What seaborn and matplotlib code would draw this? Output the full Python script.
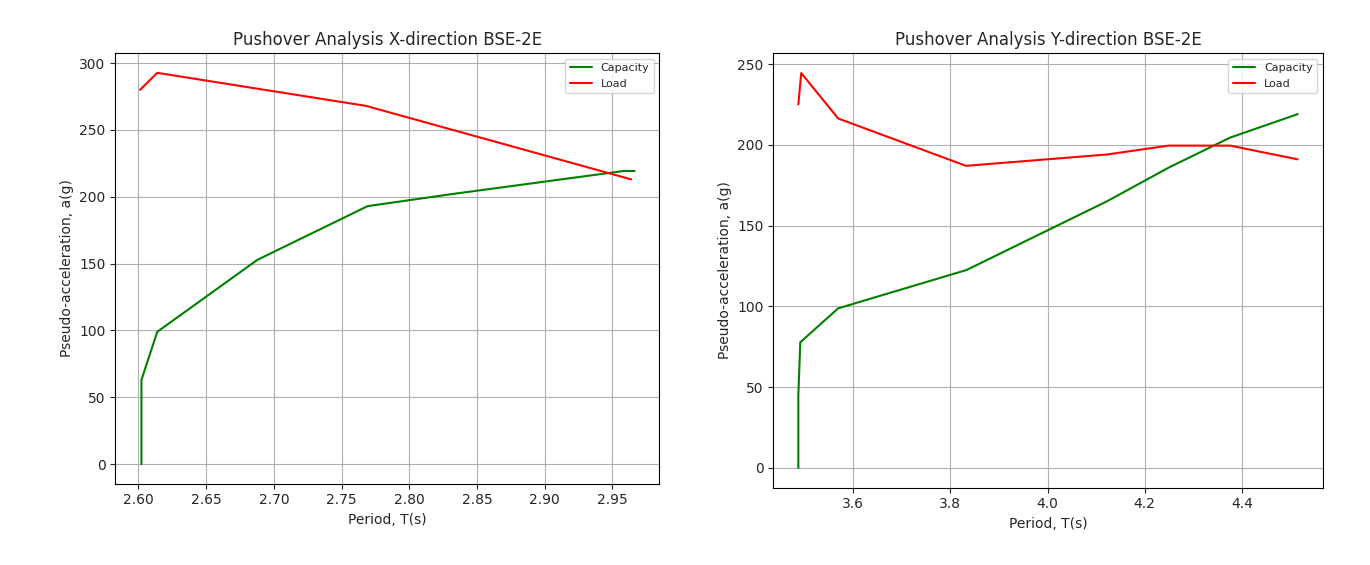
import matplotlib
matplotlib.use("Agg")
import matplotlib.pyplot as plt
import seaborn as sns
import pandas as pd

# X-direction
x_cap_T = [2.6022, 2.6022, 2.6139, 2.6878, 2.7693, 2.8300, 2.9586, 2.9665]
x_cap_a = [0.0, 63.0, 99.0, 152.8, 193.0, 201.8, 219.3, 219.3]
x_load_T = [2.6012, 2.6139, 2.7680, 2.9640]
x_load_a = [280.0, 292.7, 268.0, 213.0]

# Y-direction
y_cap_T = [3.487, 3.487, 3.491, 3.569, 3.833, 4.122, 4.250, 4.376, 4.515]
y_cap_a = [0.0, 45.0, 77.8, 98.8, 122.5, 165.0, 186.0, 204.5, 219.0]
y_load_T = [3.487, 3.493, 3.569, 3.832, 4.122, 4.249, 4.376, 4.515]
y_load_a = [225.0, 244.4, 216.3, 187.0, 194.0, 199.5, 199.5, 191.0]

titles = ["Pushover Analysis X-direction BSE-2E", "Pushover Analysis Y-direction BSE-2E"]
xlabel = "Period, T(s)"
ylabel = "Pseudo-acceleration, a(g)"

sns.set_style("ticks")
plt.rcParams["font.family"] = ["DejaVu Sans"]

fig = plt.figure(figsize=(13.7, 5.65), dpi=100)
ax1 = fig.add_axes([0.0842, 0.1439, 0.3971, 0.7618])
ax2 = fig.add_axes([0.5645, 0.1368, 0.4010, 0.7688])

datasets = [
    (ax1, x_cap_T, x_cap_a, x_load_T, x_load_a, titles[0]),
    (ax2, y_cap_T, y_cap_a, y_load_T, y_load_a, titles[1]),
]
for ax, cT, ca, lT, la, title in datasets:
    dc = pd.DataFrame({"T": cT, "a": ca})
    dl = pd.DataFrame({"T": lT, "a": la})
    sns.lineplot(data=dc, x="T", y="a", ax=ax, color="green", sort=False,
                 estimator=None, label="Capacity", linewidth=1.5)
    sns.lineplot(data=dl, x="T", y="a", ax=ax, color="red", sort=False,
                 estimator=None, label="Load", linewidth=1.5)
    ax.set_title(title, fontsize=12)
    ax.set_xlabel(xlabel, fontsize=10)
    ax.set_ylabel(ylabel, fontsize=10)
    ax.tick_params(labelsize=10)
    ax.grid(True, color="#b0b0b0", linewidth=0.8)
    ax.legend(loc="upper right", fontsize=8)
    for s in ax.spines.values():
        s.set_visible(True)
        s.set_color("black")
        s.set_linewidth(0.8)

ax1.set_yticks([0, 50, 100, 150, 200, 250, 300])
ax1.set_xticks([2.60, 2.65, 2.70, 2.75, 2.80, 2.85, 2.90, 2.95])
ax2.set_yticks([0, 50, 100, 150, 200, 250])
ax2.set_xticks([3.6, 3.8, 4.0, 4.2, 4.4])

fig.savefig("out.png", dpi=100)
